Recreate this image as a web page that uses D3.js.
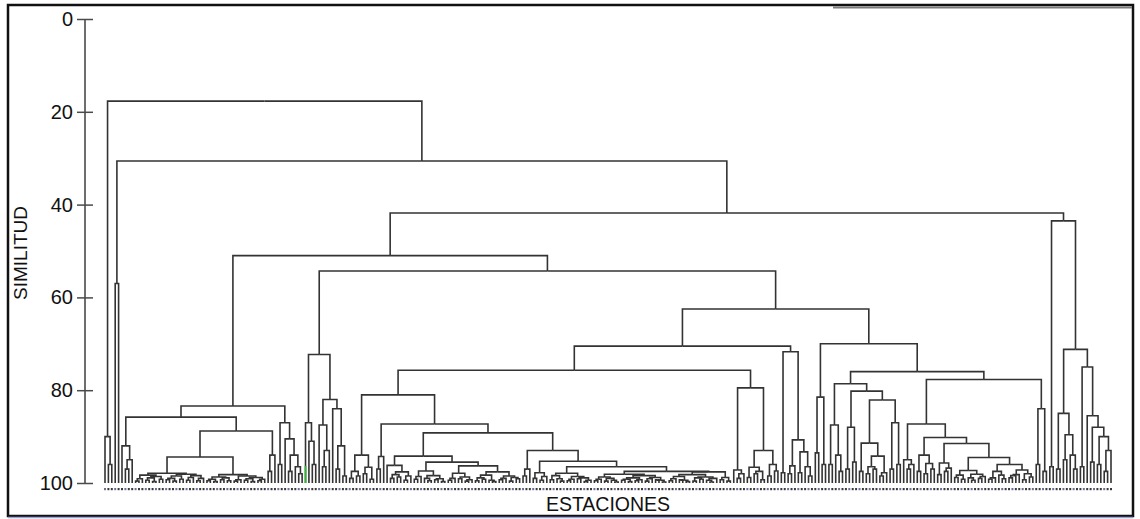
<!DOCTYPE html>
<html>
<head>
<meta charset="utf-8">
<script src="https://cdn.jsdelivr.net/npm/d3@7"></script>
<style>
    html, body { margin: 0; padding: 0; background: #fff; }
    svg { display: block; font-family: 'Liberation Sans', Arial, sans-serif; }
</style>
</head>
<body>
<svg id="chart" width="1140" height="519"></svg>
<script>
// similarity axis
const tickValues = [0, 20, 40, 60, 80, 100]
const axisTitle = 'SIMILITUD'
const leafTitle = 'ESTACIONES'

// clusters as (left,right)similarity, * = one station, g = the station drawn green
const groupA = '(*,(*,*)96)90'
const groupB = '(*,*)57'
const clusterF1a = '(*,((*,*)97,*)95)92'
const flat1L = '(((*,*)99.6,*)99.1,(((*,*)99.4,(*,*)99.7)98.9,(*,*)99.2)98.6)98.3'
const flat1R = '((((*,*)99.3,(*,*)99.6)99,(*,*)99.2)98.5,(((*,*)99.4,*)98.8,((*,*)99.5,*)99)98.4)98.1'
const flat2L = '(((*,*)99.5,(*,*)99.7)99.2,((*,*)99.3,(*,*)99.5)98.9)98.7'
const flat2R = '(((*,*)99.6,*)99.3,(((*,*)99.4,(*,*)99.7)99.1,((*,*)99.5,*)99.2)98.8)98.5'
const clusterF1bR = '((*,*)97.5,*)94'
const clusterF2 = '((*,*)96,(*,((*,*)97.5,(*,(*,*)98)96.5)94)90.5)87'
const G1L = '(g,(*,(*,*)96)91)87'
const G1RL = '(*,((*,*)96.5,*)93)87.5'
const G1RR = '(*,((*,*)97,(*,*)98.5)92)84'
const J1 = '(((*,*)99,(*,*)98.5)97.5,((*,*)98,(*,*)99.2)96.6)94'
const J2L = '((*,*)97,*)94.3'
const J2RLa = '(*,(((*,*)99,(*,*)98.7)98.2,((*,*)99.4,*)98.5)97.6)96.2'
const c1 = '(((*,*)99.2,*)98.6,((*,(*,*)99.5)99,((*,*)99.3,(*,*)99.7)99.1)98.4)97.4'
const c2a = '(((*,*)99.4,*)99,((*,*)99.1,((*,*)99.6,*)99.3)98.7)97.9'
const c2b = '((((*,*)99.5,(*,*)99.2)98.9,(*,(*,*)99.7)99.4)98.3,(((*,*)99.3,*)99,((*,*)99.6,(*,*)99.1)98.8)98.5)97.6'
const P1 = '((*,*)98.5,*)97'
const Q1 = '((*,*)99,((*,*)99.4,*)98.6)97.8'
const R1 = '(((*,*)99.3,(*,(*,*)99.6)99.1)98.4,(((*,*)99.5,*)99.2,((*,*)99.1,((*,*)99.7,*)99.4)98.9)98.6)97.9'
const S1a = '(((*,*)99.5,*)99.2,((*,*)99.6,(*,(*,*)99.8)99.4)99)98.7'
const S1b = '((((*,*)99.4,(*,*)99.7)99.2,((*,*)99.5,*)99.3)98.9,(((*,*)99.6,*)99.1,((*,*)99.3,(*,*)99.8)99.4)98.8)98.4'
const S2a = '((((*,*)99.5,*)99.1,((*,*)99.3,(*,*)99.7)99.4)98.6,(((*,*)99.6,(*,*)99.2)98.9,((*,(*,*)99.8)99.4,*)99)98.7)98.2'
const S2b = '((*,*)99.3,(*,*)99.6)98.8'
const K1 = '(*,((*,*)99,*)98)97.2'
const K2a = '((*,*)98.8,((*,*)98,(*,*)99.3)97.5)96.6'
const K2b = '((*,*)98.5,(*,*)97.4)96'
const H2a = '(*,*)97.8'
const H2b1 = '((*,*)98,*)96.3'
const H2b2 = '((*,*)97.8,(*,(*,*)98.5)96.5)93.3'
const Ileft = '((*,*)93.5,(*,*)96)81.5'
const IRLa = '((*,*)96,(*,(*,*)97.5)94)87.5'
const IRLb1 = '((*,*)97,(*,*)95.5)88'
const IRLb2a = '((*,*)97.5,(((*,*)98,(*,*)97)96.5,((*,*)98.5,*)97.8)94.2)91.4'
const IRLb2b = '((*,*)97,(*,*)96)87'
const T1 = '(*,((*,*)97,*)96)95'
const U1 = '((*,*)97.5,((*,*)98,(*,*)97)95.8)94'
const V1 = '((*,*)98.2,((*,*)97.5,*)96.8)95.7'
const W1 = '(((*,*)98.8,(*,*)99.2)98.3,((*,(*,*)99.4)98.9,((*,*)99,*)98.6)98.1)97.3'
const W2 = '((((*,*)99.2,*)98.9,(*,(*,*)99.1)98.3)97.5,((((*,*)98.9,*)98.4,*)98.2,((*,*)99.3,(*,*)98.7)98)97.2)96'
const IRRR = '((*,*)96,(*,*)97.5)84'
const Eleft = '(*,*)96.5'
const X1 = '((*,*)97,((*,*)95,(*,(*,*)97)94)89.6)85'
const X2 = '((*,*)96.5,(*,((*,*)95.5,((*,*)96,((*,*)97.5,*)93)90)88)85.5)75'

// upper levels of the tree
const F = `((${clusterF1a},(((${flat1L},${flat1R})97.9,(${flat2L},${flat2R})98.2)94.4,${clusterF1bR})88.8)85.8,${clusterF2})83.4`
const G1 = `(${G1L},(${G1RL},${G1RR})82)72.3`
const J = `(${J1},(${J2L},((${J2RLa},(${c1},(${c2a},${c2b})96.3)95.5)94.2,(${P1},(${Q1},(${R1},((${S1a},${S1b})98.1,(${S2a},${S2b})97.6)97.5)96.5)95.3)93)89.2)87.3)81`
const K = `(${K1},(${K2a},${K2b})93)79.5`
const H = `((${J},${K})75.7,(${H2a},(${H2b1},${H2b2})90.7)71.7)70.5`
const I = `(${Ileft},((${IRLa},(${IRLb1},(${IRLb2a},${IRLb2b})82.1)80.2)78.6,((${T1},(${U1},(${V1},(${W1},${W2})94.5)91.5)90.2)87.3,${IRRR})77.7)76)70`
const E = `(${Eleft},(${X1},${X2})71.2)43.5`
const treeText = `(${groupA},(${groupB},((${F},(${G1},(${H},${I})62.5)54.3)51,${E})41.8)30.6)17.7`

function parseTree (text) {
    let i = 0
    function node () {
        if (text[i] === '(') {
            i++
            const children = [node()]
            while (text[i] === ',') {
                i++
                children.push(node())
            }
            i++
            let num = ''
            while (i < text.length && /[0-9.]/.test(text[i])) num += text[i++]
            return { h: +num, children }
        }
        const c = text[i++]
        return { h: 100, green: c === 'g' }
    }
    return node()
}

const svg = d3.select('#chart')

const root = d3.hierarchy(parseTree(treeText))
const leaves = root.leaves()
const x = d3.scaleLinear().domain([0, leaves.length - 1]).range([105, 1111])
const y = d3.scaleLinear().domain([0, 100]).range([19, 483])

leaves.forEach((d, i) => { d.x = x(i) })
root.eachAfter(d => {
    if (d.children) d.x = (d.children[0].x + d.children[d.children.length - 1].x) / 2
})

// frame
svg.append('rect')
    .attr('x', 8).attr('y', 5)
    .attr('width', 1125).attr('height', 511)
    .attr('fill', 'none')
    .attr('stroke', '#111')
    .attr('stroke-width', 2.5)
svg.append('line')
    .attr('x1', 8).attr('x2', 1133)
    .attr('y1', 517.5).attr('y2', 517.5)
    .attr('stroke', '#9aa2d6')
    .attr('stroke-width', 1.5)
svg.append('rect')
    .attr('x', 833).attr('y', 6.5)
    .attr('width', 299).attr('height', 2)
    .attr('fill', '#7a7a7a')

// dendrogram
svg.append('g')
    .attr('fill', 'none')
    .attr('stroke', '#333')
    .attr('stroke-width', 1.6)
    .selectAll('path')
    .data(root.links())
    .join('path')
    .attr('d', l => `M${l.target.x},${y(l.target.data.h)}V${y(l.source.data.h)}H${l.source.x}`)

svg.append('g')
    .selectAll('line')
    .data(leaves.filter(d => d.data.green))
    .join('line')
    .attr('x1', d => d.x).attr('x2', d => d.x)
    .attr('y1', y(96.3)).attr('y2', y(100))
    .attr('stroke', '#2fb52f')
    .attr('stroke-width', 1.8)

// station marks under the leaves
svg.append('g')
    .selectAll('rect')
    .data(leaves)
    .join('rect')
    .attr('x', d => d.x - 1)
    .attr('y', 488)
    .attr('width', 2)
    .attr('height', 2.2)
    .attr('fill', (d, i) => i % 3 === 0 ? '#6b6f9a' : '#3a3a3a')

// axis
svg.append('line')
    .attr('x1', 85).attr('x2', 85)
    .attr('y1', y(0)).attr('y2', y(100))
    .attr('stroke', '#4a4a4a')
    .attr('stroke-width', 1.6)

const axis = d3.axisLeft(y).tickValues(tickValues).tickSize(16).tickPadding(4)
svg.append('g')
    .attr('transform', 'translate(93,0)')
    .call(axis)
    .call(g => g.select('.domain').remove())
    .call(g => g.selectAll('.tick line').attr('stroke', '#4a4a4a').attr('stroke-width', 1.5))
    .call(g => g.selectAll('.tick text')
        .attr('fill', '#111')
        .attr('font-size', '20px')
        .attr('font-family', "'Liberation Sans', Arial, sans-serif"))

svg.append('text')
    .attr('transform', 'translate(27,253) rotate(-90)')
    .attr('text-anchor', 'middle')
    .attr('font-size', '19px')
    .attr('fill', '#111')
    .text(axisTitle)

svg.append('text')
    .attr('x', 608)
    .attr('y', 511)
    .attr('text-anchor', 'middle')
    .attr('font-size', '19.5px')
    .attr('fill', '#111')
    .text(leafTitle)
</script>
</body>
</html>
